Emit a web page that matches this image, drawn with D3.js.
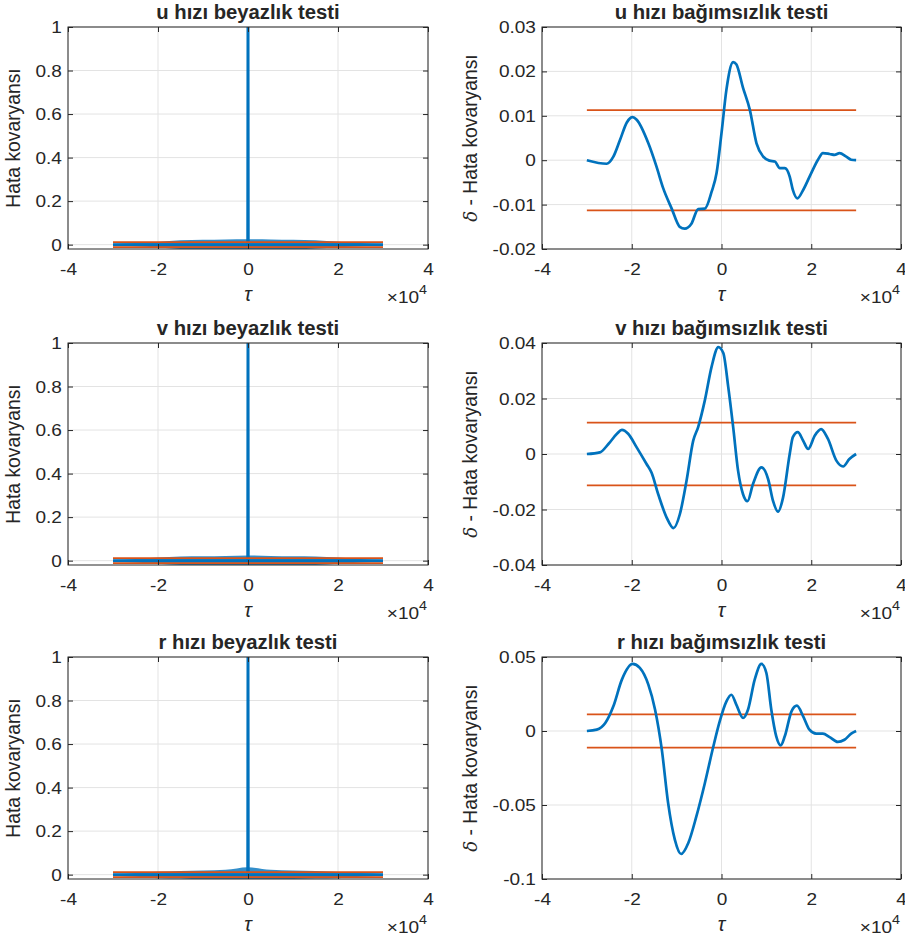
<!DOCTYPE html>
<html>
  <head>
    <meta charset="UTF-8" />
    <title>Beyazlık ve bağımsızlık testleri</title>
    <script src="https://d3js.org/d3.v7.min.js"></script>
    <style>
      body { margin: 0; background: #fff; }
      text { font-family: 'Liberation Sans', Arial, Helvetica, sans-serif; fill: #262626; }
    </style>
  </head>
  <body>
    <div id="main"></div>
    <script type="text/javascript">
      const width = 905;
      const height = 945;

      // x axis (lag, x10^4)
      const xTicks = [-4, -2, 0, 2, 4];
      const confBound = 0.0113;
      const lagEnds = [-3, 3];

      // left column: whiteness test
      const whiteTitles = ['u hızı beyazlık testi', 'v hızı beyazlık testi', 'r hızı beyazlık testi'];
      const whiteTicks = [0, 0.2, 0.4, 0.6, 0.8, 1];
      const whiteLag = [-3, -0.005, 0, 0.005, 3];
      const uWhite = [0, 0, 1, 0, 0];
      const vWhite = [0, 0, 1, 0, 0];
      const rWhite = [0, 0, 1, 0, 0];
      const noiseLag = [-3, -2.5, -2, -1.5, -1, -0.5, 0, 0.5, 1, 1.5, 2, 2.5, 3];
      const uNoiseUp = [0.004, 0.007, 0.012, 0.02, 0.022, 0.024, 0.025, 0.024, 0.022, 0.02, 0.013, 0.007, 0.004];
      const uNoiseLo = [-0.004, -0.007, -0.013, -0.02, -0.022, -0.024, -0.024, -0.023, -0.022, -0.018, -0.012, -0.007, -0.004];
      const vNoiseUp = [0.004, 0.007, 0.014, 0.019, 0.02, 0.021, 0.024, 0.021, 0.02, 0.019, 0.014, 0.007, 0.004];
      const vNoiseLo = [-0.004, -0.008, -0.014, -0.02, -0.022, -0.023, -0.023, -0.023, -0.022, -0.02, -0.014, -0.008, -0.004];
      const rNoiseUp = [0.004, 0.008, 0.013, 0.017, 0.019, 0.022, 0.034, 0.022, 0.019, 0.017, 0.012, 0.007, 0.004];
      const rNoiseLo = [-0.004, -0.01, -0.016, -0.018, -0.022, -0.024, -0.024, -0.024, -0.02, -0.018, -0.016, -0.01, -0.004];

      // right column: independence test
      const indTitles = ['u hızı bağımsızlık testi', 'v hızı bağımsızlık testi', 'r hızı bağımsızlık testi'];
      const uIndTicks = [-0.02, -0.01, 0, 0.01, 0.02, 0.03];
      const vIndTicks = [-0.04, -0.02, 0, 0.02, 0.04];
      const rIndTicks = [-0.1, -0.05, 0, 0.05];
      const uIndLag = [-3, -2.56, -2.41, -2.26, -2.11, -1.98, -1.89, -1.63, -1.45, -1.3, -1.11, -0.93, -0.82, -0.67, -0.52, -0.37, -0.22, -0.11, 0, 0.11, 0.26, 0.33, 0.48, 0.63, 0.78, 0.93, 1.07, 1.19, 1.3, 1.41, 1.52, 1.59, 1.69, 1.82, 2.0, 2.15, 2.26, 2.41, 2.52, 2.63, 2.78, 2.89, 3.0];
      const uIndVal = [0, -0.0008, 0.0008, 0.0046, 0.0085, 0.0097, 0.0091, 0.0038, -0.0014, -0.0063, -0.0109, -0.015, -0.0154, -0.0143, -0.011, -0.0109, -0.0071, -0.0029, 0.0061, 0.0159, 0.0221, 0.0216, 0.0163, 0.0114, 0.0038, 0.0008, -0.0001, -0.0003, -0.0018, -0.0018, -0.0037, -0.0067, -0.0086, -0.0067, -0.0029, 0.0001, 0.0016, 0.0014, 0.0012, 0.0016, 0.0008, 0.0001, 0];
      const vIndLag = [-3, -2.71, -2.52, -2.33, -2.22, -2.08, -1.89, -1.67, -1.56, -1.41, -1.22, -1.07, -0.93, -0.78, -0.63, -0.52, -0.37, -0.22, -0.07, 0.04, 0.15, 0.26, 0.37, 0.48, 0.58, 0.7, 0.89, 1.04, 1.15, 1.26, 1.37, 1.52, 1.59, 1.7, 1.82, 1.93, 2.08, 2.22, 2.37, 2.56, 2.71, 2.85, 3.0];
      const vIndVal = [0, 0.0006, 0.0036, 0.0073, 0.0087, 0.0073, 0.0024, -0.0036, -0.0067, -0.0145, -0.023, -0.0267, -0.0218, -0.0097, 0.0048, 0.0097, 0.0194, 0.0315, 0.0385, 0.0364, 0.0242, 0.0097, -0.0061, -0.0145, -0.017, -0.0109, -0.0048, -0.0091, -0.017, -0.0208, -0.0158, 0, 0.0061, 0.0079, 0.0048, 0.0018, 0.0067, 0.009, 0.0055, -0.0024, -0.0045, -0.0018, 0];
      const rIndLag = [-3, -2.78, -2.59, -2.41, -2.22, -1.98, -1.82, -1.63, -1.48, -1.33, -1.19, -1.04, -0.9, -0.74, -0.56, -0.37, -0.19, -0.04, 0.11, 0.22, 0.33, 0.48, 0.59, 0.74, 0.89, 1.0, 1.11, 1.22, 1.32, 1.41, 1.56, 1.68, 1.82, 1.96, 2.11, 2.26, 2.41, 2.59, 2.74, 2.89, 3.0];
      const rIndVal = [0, 0.0009, 0.0054, 0.0167, 0.0347, 0.0453, 0.0426, 0.0313, 0.0144, -0.0126, -0.0486, -0.0734, -0.0831, -0.0757, -0.0577, -0.0351, -0.0115, 0.0065, 0.02, 0.0245, 0.0178, 0.0088, 0.0144, 0.0347, 0.0453, 0.0392, 0.0144, -0.0036, -0.0097, -0.0036, 0.0133, 0.0171, 0.0099, 0.0009, -0.0018, -0.0018, -0.0041, -0.0074, -0.0059, -0.0018, 0];

      const blue = '#0072BD';
      const orange = '#D95319';
      const axisColor = '#262626';
      const gridColor = '#e3e3e3';

      const rowTops = [27, 343, 657];
      const plotH = 222;
      const cols = [{ x0: 68, x1: 428 }, { x0: 542, x1: 901 }];
      const stretch = 'scale(1.1,1)';

      const svg = d3
        .select('div#main')
        .append('svg')
        .attr('width', width)
        .attr('height', height);

      const zip = (xs, ys) => xs.map((x, i) => [x, ys[i]]);
      // MATLAB style tick text: plain hyphen for minus
      const fmtTick = d => (d === 0 ? '0' : String(+d.toFixed(3)).replace('\u2212', '-'));

      function drawPanel(id, col, top, yDomain, yTicks, title, yLabelDelta, drawData) {
        const x = d3.scaleLinear().domain([-4, 4]).range([col.x0, col.x1]);
        const y = d3.scaleLinear().domain(yDomain).range([top + plotH, top]);
        const bottom = top + plotH;
        const cx = (col.x0 + col.x1) / 2;

        svg.append('clipPath').attr('id', id)
          .append('rect')
          .attr('x', col.x0).attr('y', top)
          .attr('width', col.x1 - col.x0).attr('height', plotH);

        // grid
        const grid = svg.append('g');
        grid.selectAll('.gx').data(xTicks).join('line')
          .attr('x1', d => x(d)).attr('x2', d => x(d))
          .attr('y1', top).attr('y2', bottom)
          .attr('stroke', gridColor).attr('stroke-width', 1);
        grid.selectAll('.gy').data(yTicks).join('line')
          .attr('x1', col.x0).attr('x2', col.x1)
          .attr('y1', d => y(d)).attr('y2', d => y(d))
          .attr('stroke', gridColor).attr('stroke-width', 1);

        const plot = svg.append('g').attr('clip-path', `url(#${id})`);
        drawData(plot, x, y);

        // axes: ticks inward on all four sides
        const fs = 17.3;
        const axB = svg.append('g').attr('transform', `translate(0,${bottom})`)
          .call(d3.axisBottom(x).tickValues(xTicks).tickSize(-5).tickPadding(13.8).tickFormat(fmtTick));
        const axT = svg.append('g').attr('transform', `translate(0,${top})`)
          .call(d3.axisTop(x).tickValues(xTicks).tickSize(-5).tickFormat(''));
        const axL = svg.append('g').attr('transform', `translate(${col.x0},0)`)
          .call(d3.axisLeft(y).tickValues(yTicks).tickSize(-5).tickPadding(5.5).tickFormat(fmtTick));
        const axR = svg.append('g').attr('transform', `translate(${col.x1},0)`)
          .call(d3.axisRight(y).tickValues(yTicks).tickSize(-5).tickFormat(''));
        [axB, axT, axL, axR].forEach(a => {
          a.select('.domain').remove();
          a.selectAll('.tick line').attr('stroke', axisColor);
          a.selectAll('text')
            .attr('font-size', fs)
            .attr('font-family', "'Liberation Sans', Arial, sans-serif")
            .attr('fill', axisColor)
            .attr('transform', stretch);
        });

        svg.append('rect')
          .attr('x', col.x0).attr('y', top)
          .attr('width', col.x1 - col.x0).attr('height', plotH)
          .attr('fill', 'none').attr('stroke', axisColor).attr('stroke-width', 1);

        // title
        svg.append('text')
          .attr('transform', `translate(${cx},${top - 8}) scale(1.05,1)`)
          .attr('text-anchor', 'middle')
          .attr('font-size', 19.3).attr('font-weight', 'bold')
          .attr('fill', '#000')
          .text(title);

        // x label
        svg.append('text')
          .attr('x', cx).attr('y', bottom + 52)
          .attr('text-anchor', 'middle')
          .attr('font-size', 20).attr('font-style', 'italic')
          .attr('font-family', "'DejaVu Serif', serif")
          .text('τ');

        // exponent
        const ex = svg.append('text')
          .attr('transform', `translate(${col.x1 - 1},${bottom + 54}) ${stretch}`)
          .attr('text-anchor', 'end')
          .attr('font-size', fs);
        ex.append('tspan').text('×10');
        ex.append('tspan').attr('dy', -9).attr('font-size', 13).text('4');

        // y label
        const cy = top + plotH / 2;
        const lx = yLabelDelta ? col.x0 - 65 : col.x0 - 48;
        const yl = svg.append('text')
          .attr('transform', `translate(${lx},${cy}) rotate(-90)`)
          .attr('text-anchor', 'middle')
          .attr('font-size', 19.3);
        if (yLabelDelta) {
          yl.append('tspan').attr('font-style', 'italic')
            .attr('font-family', "'DejaVu Serif', serif").attr('font-size', 18).text('δ');
          yl.append('tspan').text(' - Hata kovaryansı');
        } else {
          yl.text('Hata kovaryansı');
        }
      }

      const whiteMain = [uWhite, vWhite, rWhite];
      const whiteUp = [uNoiseUp, vNoiseUp, rNoiseUp];
      const whiteLo = [uNoiseLo, vNoiseLo, rNoiseLo];
      const indLag = [uIndLag, vIndLag, rIndLag];
      const indVal = [uIndVal, vIndVal, rIndVal];
      const indTicks = [uIndTicks, vIndTicks, rIndTicks];
      const indDomains = [[-0.02, 0.03], [-0.04, 0.04], [-0.1, 0.05]];

      rowTops.forEach((top, i) => {
        drawPanel('cw' + i, cols[0], top, [-0.02, 1], whiteTicks, whiteTitles[i], false, (g, x, y) => {
          const band = d3.area()
            .x(d => x(d[0]))
            .y0(d => y(d[1]))
            .y1(d => y(d[2]))
            .curve(d3.curveMonotoneX);
          g.append('path')
            .datum(noiseLag.map((t, k) => [t, whiteLo[i][k], whiteUp[i][k]]))
            .attr('d', band)
            .attr('fill', blue).attr('opacity', 0.8);
          g.append('path')
            .datum(zip(whiteLag, whiteMain[i]))
            .attr('d', d3.line().x(d => x(d[0])).y(d => y(d[1])))
            .attr('fill', 'none').attr('stroke', blue).attr('stroke-width', 3);
          [confBound, -confBound].forEach(b => {
            g.append('line')
              .attr('x1', x(lagEnds[0])).attr('x2', x(lagEnds[1]))
              .attr('y1', y(b)).attr('y2', y(b))
              .attr('stroke', orange).attr('stroke-width', 1.8);
          });
        });

        drawPanel('ci' + i, cols[1], top, indDomains[i], indTicks[i], indTitles[i], true, (g, x, y) => {
          [confBound, -confBound].forEach(b => {
            g.append('line')
              .attr('x1', x(lagEnds[0])).attr('x2', x(lagEnds[1]))
              .attr('y1', y(b)).attr('y2', y(b))
              .attr('stroke', orange).attr('stroke-width', 1.8);
          });
          g.append('path')
            .datum(zip(indLag[i], indVal[i]))
            .attr('d', d3.line().x(d => x(d[0])).y(d => y(d[1])).curve(d3.curveMonotoneX))
            .attr('fill', 'none').attr('stroke', blue).attr('stroke-width', 2.7)
            .attr('stroke-linejoin', 'round');
        });
      });
    </script>
  </body>
</html>
